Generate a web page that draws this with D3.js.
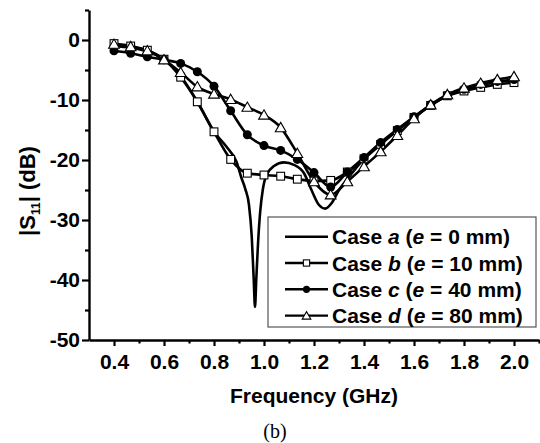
<!DOCTYPE html>
<html>
<head>
<meta charset="utf-8">
<script src="https://cdn.jsdelivr.net/npm/d3@7"></script>
<style>
  body { margin: 0; background: white; }
  svg { display: block; }
</style>
</head>
<body>
<div id="canvas"></div>
<script>
var w = 540;
var h = 443;

// measured frequencies (GHz) for the marker cases b, c, d
var freq = [0.4, 0.4667, 0.5333, 0.6, 0.6667, 0.7333, 0.8, 0.8667, 0.9333, 1.0,
            1.0667, 1.1333, 1.2, 1.2667, 1.3333, 1.4, 1.4667, 1.5333, 1.6, 1.6667,
            1.7333, 1.8, 1.8667, 1.9333, 2.0];

var caseB = [-0.6, -1.0, -1.7, -3.2, -6.2, -10.3, -15.3, -19.9, -22.2, -22.5,
             -22.7, -23.2, -23.5, -23.4, -22.0, -19.8, -17.4, -15.1, -12.9, -10.9,
             -9.3, -8.5, -7.9, -7.4, -7.1];
var caseC = [-1.8, -2.2, -2.8, -3.3, -3.9, -5.3, -7.7, -11.8, -15.8, -17.6,
             -18.4, -19.9, -22.1, -24.5, -22.0, -19.6, -17.1, -14.9, -12.8, -10.8,
             -9.2, -8.2, -7.4, -6.9, -6.6];
var caseD = [-0.7, -1.1, -1.8, -3.3, -5.4, -7.8, -9.0, -9.9, -11.2, -12.5,
             -14.6, -18.9, -23.6, -25.8, -23.6, -21.1, -18.6, -15.9, -13.1, -10.8,
             -9.1, -8.0, -7.2, -6.6, -6.1];

// case a is a plain line, read densely around the deep notch
var freqA = [0.4, 0.4667, 0.5333, 0.6, 0.6667, 0.7333, 0.8, 0.85, 0.89, 0.91,
             0.925, 0.94, 0.951, 0.959, 0.964, 0.969, 0.976, 0.985, 0.995, 1.01,
             1.04, 1.08, 1.12, 1.16, 1.19, 1.22, 1.245, 1.27, 1.30, 1.34,
             1.40, 1.4667, 1.5333, 1.6, 1.6667, 1.7333, 1.8, 1.8667, 1.9333, 2.0];
var caseA = [-1.0, -1.3, -1.9, -3.2, -6.0, -10.3, -15.3, -17.8, -20.3, -23.0,
             -24.8, -27.5, -32.8, -40.0, -44.5, -40.0, -34.0, -28.5, -25.0, -22.5,
             -21.0, -20.4, -20.8, -22.2, -25.0, -27.5, -28.1, -27.2, -25.0, -22.8,
             -19.8, -17.3, -15.0, -12.9, -10.9, -9.3, -8.3, -7.5, -7.0, -6.7];

var xTicks = [0.4, 0.6, 0.8, 1.0, 1.2, 1.4, 1.6, 1.8, 2.0];
var xMinor = [0.5, 0.7, 0.9, 1.1, 1.3, 1.5, 1.7, 1.9, 2.1];
var yTicks = [0, -10, -20, -30, -40, -50];
var yMinor = [5, -5, -15, -25, -35, -45];

var legendLabels = [
    {k: "a", e: "0"},
    {k: "b", e: "10"},
    {k: "c", e: "40"},
    {k: "d", e: "80"}
];

var canvas = d3.select("#canvas")
    .append("svg")
    .attr("width", w)
    .attr("height", h)
    .style("background-color", "white");

var x = d3.scaleLinear().domain([0.3, 2.1]).range([89, 539]);
var y = d3.scaleLinear().domain([-50, 5]).range([340, 10]);

var font = "'Liberation Sans', Arial, sans-serif";

// axes
var xAxis = canvas.append("g")
    .attr("transform", "translate(0,340)")
    .call(d3.axisBottom(x).tickValues(xTicks).tickSize(6).tickSizeOuter(0)
        .tickPadding(8).tickFormat(d3.format(".1f")));
xAxis.selectAll(".tick text")
    .style("font-family", font).style("font-size", "21px").style("font-weight", "bold");

var xAxisMinor = canvas.append("g")
    .attr("transform", "translate(0,340)")
    .call(d3.axisBottom(x).tickValues(xMinor).tickSize(3.5).tickFormat(""));
xAxisMinor.select(".domain").remove();

var yAxis = canvas.append("g")
    .attr("transform", "translate(89,0)")
    .call(d3.axisLeft(y).tickValues(yTicks).tickSize(7).tickSizeOuter(0)
        .tickPadding(2).tickFormat(function(d) { return d < 0 ? "-" + Math.abs(d) : d; }));
yAxis.selectAll(".tick text")
    .style("font-family", font).style("font-size", "21px").style("font-weight", "bold");

var yAxisMinor = canvas.append("g")
    .attr("transform", "translate(89,0)")
    .call(d3.axisLeft(y).tickValues(yMinor).tickSize(4).tickFormat(""));
yAxisMinor.select(".domain").remove();

canvas.selectAll(".domain").attr("stroke-width", 2.4);
canvas.selectAll(".tick line").attr("stroke-width", 2.2);

// axis titles
canvas.append("text")
    .attr("x", 314)
    .attr("y", 403)
    .attr("text-anchor", "middle")
    .style("font-family", font).style("font-size", "21px").style("font-weight", "bold")
    .text("Frequency (GHz)");

var yTitle = canvas.append("text")
    .attr("transform", "translate(35,191) rotate(-90)")
    .attr("text-anchor", "middle")
    .style("font-family", font).style("font-size", "22px").style("font-weight", "bold");
yTitle.append("tspan").text("|S");
yTitle.append("tspan").attr("dy", 5).style("font-size", "12px").text("11");
yTitle.append("tspan").attr("dy", -5).text("| (dB)");

canvas.append("text")
    .attr("x", 275)
    .attr("y", 438)
    .attr("text-anchor", "middle")
    .style("font-family", "'Liberation Serif', 'Times New Roman', serif")
    .style("font-size", "20px")
    .text("(b)");

// lines
var line = d3.line()
    .x(function(d) { return x(d[0]); })
    .y(function(d) { return y(d[1]); })
    .curve(d3.curveMonotoneX);

function drawLine(xs, ys) {
    canvas.append("path")
        .datum(d3.zip(xs, ys))
        .attr("d", line)
        .attr("fill", "none")
        .attr("stroke", "black")
        .attr("stroke-width", 2.6);
}

var tri = d3.symbol().type(d3.symbolTriangle);

function drawMarkers(g, pts, kind, scale) {
    var s = scale || 1;
    if (kind === "square") {
        g.selectAll("rect.m").data(pts).join("rect")
            .attr("class", "m")
            .attr("x", function(d) { return d[0] - 3.9 * s; })
            .attr("y", function(d) { return d[1] - 3.9 * s; })
            .attr("width", 7.8 * s).attr("height", 7.8 * s)
            .attr("fill", "white").attr("stroke", "black").attr("stroke-width", 1.1);
    } else if (kind === "circle") {
        g.selectAll("circle.m").data(pts).join("circle")
            .attr("class", "m")
            .attr("cx", function(d) { return d[0]; })
            .attr("cy", function(d) { return d[1]; })
            .attr("r", 4.5 * s)
            .attr("fill", "black");
    } else if (kind === "triangle") {
        g.selectAll("path.m").data(pts).join("path")
            .attr("class", "m")
            .attr("d", tri.size(50 * s * s))
            .attr("transform", function(d) { return "translate(" + d[0] + "," + (d[1] + 1) + ")"; })
            .attr("fill", "white").attr("stroke", "black").attr("stroke-width", 1.1);
    }
}

drawLine(freqA, caseA);

var series = [
    {vals: caseB, kind: "square"},
    {vals: caseC, kind: "circle"},
    {vals: caseD, kind: "triangle"}
];
series.forEach(function(s) {
    drawLine(freq, s.vals);
});
series.forEach(function(s) {
    var pts = freq.map(function(f, i) { return [x(f), y(s.vals[i])]; });
    drawMarkers(canvas.append("g"), pts, s.kind);
});

// legend
var legend = canvas.append("g");
legend.append("rect")
    .attr("x", 268).attr("y", 217)
    .attr("width", 268).attr("height", 110)
    .attr("fill", "white")
    .attr("stroke", "#555")
    .attr("stroke-width", 1.2);

var kinds = [null, "square", "circle", "triangle"];
legendLabels.forEach(function(item, i) {
    var ly = 236.7 + i * 26.3;
    legend.append("line")
        .attr("x1", 285).attr("x2", 328)
        .attr("y1", ly).attr("y2", ly)
        .attr("stroke", "black").attr("stroke-width", 2.4);
    if (kinds[i]) drawMarkers(legend.append("g"), [[306.5, ly]], kinds[i], 0.8);
    var t = legend.append("text")
        .attr("x", 332)
        .attr("y", ly + 7.5)
        .style("font-family", font).style("font-size", "21px").style("font-weight", "bold");
    t.append("tspan").text("Case ");
    t.append("tspan").style("font-style", "italic").text(item.k);
    t.append("tspan").text(" (");
    t.append("tspan").style("font-style", "italic").text("e");
    t.append("tspan").text(" = " + item.e + " mm)");
});
</script>
</body>
</html>
